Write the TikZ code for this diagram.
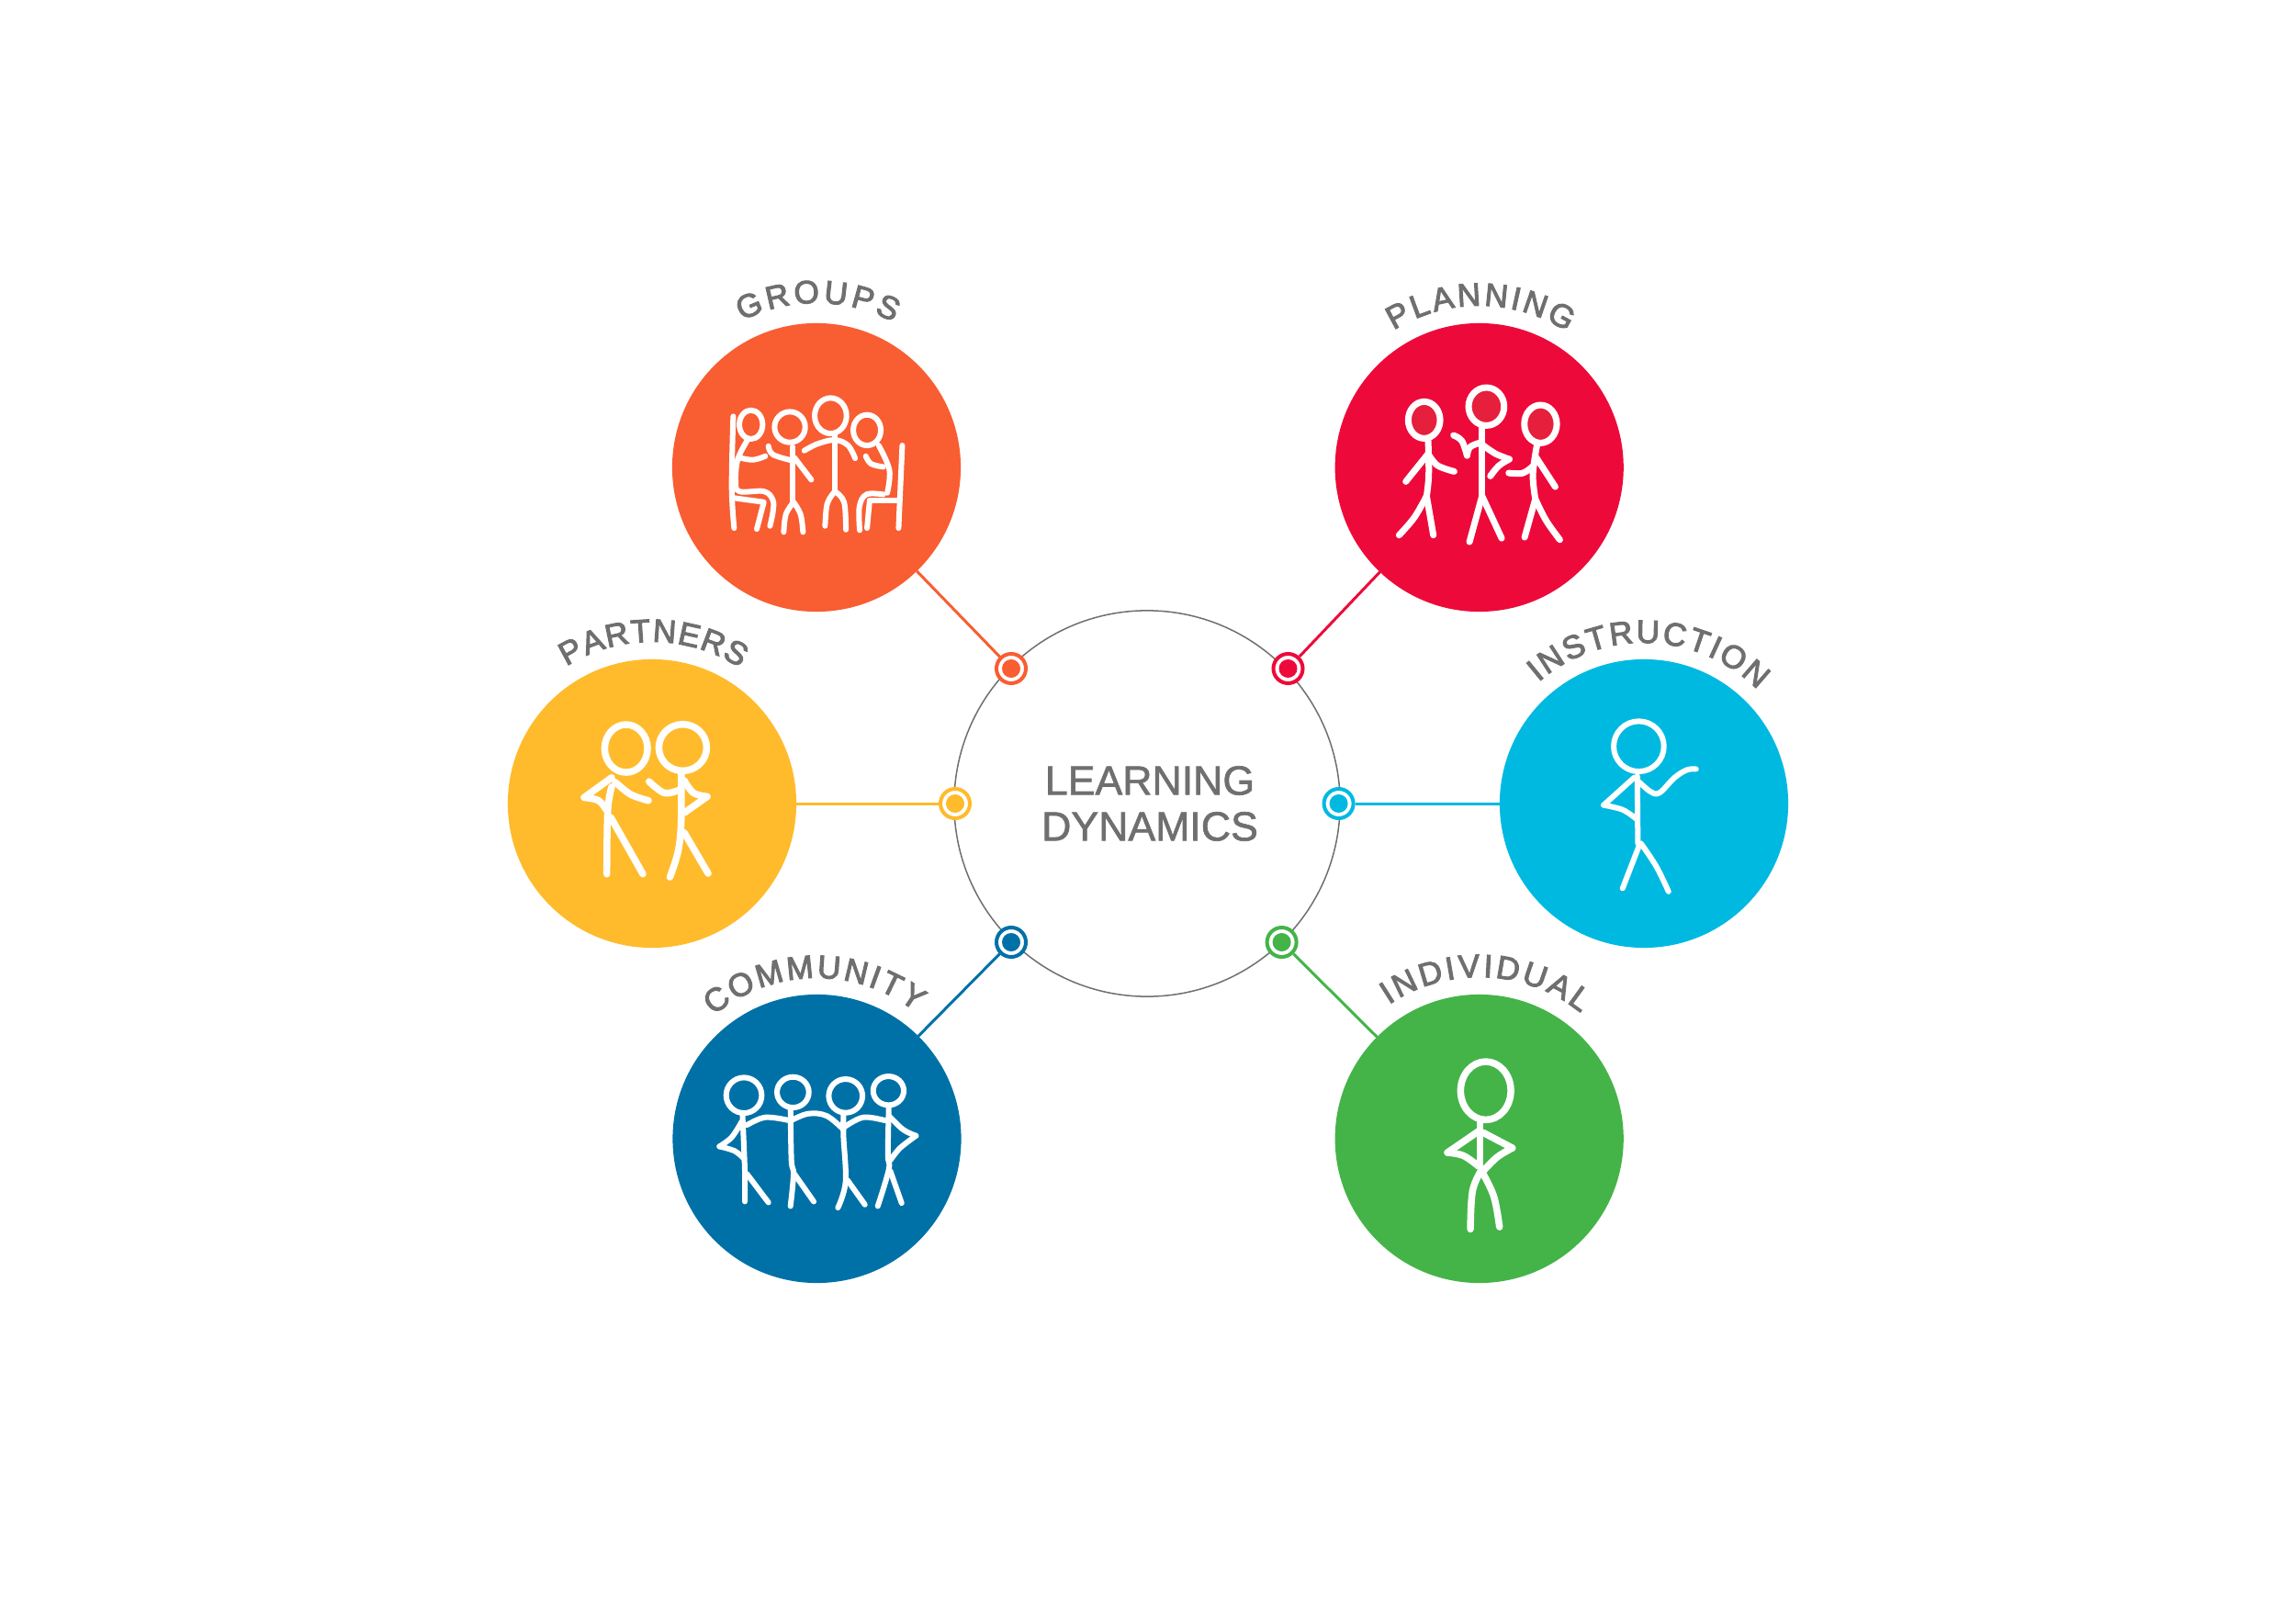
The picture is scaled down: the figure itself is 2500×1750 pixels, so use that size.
\documentclass[tikz,border=0pt]{standalone}
\usepackage{fontspec}
\usetikzlibrary{decorations.text}
\newfontfamily\labelfont[FakeBold=3]{Liberation Sans}
\newfontfamily\titlefont[FakeBold=1.5]{Liberation Sans}
\definecolor{dimgrey}{HTML}{6F6F6F}
\definecolor{coGroups}{HTML}{F95D32}
\definecolor{coPlanning}{HTML}{ED0A3A}
\definecolor{coPartners}{HTML}{FFBB2C}
\definecolor{coInstruction}{HTML}{00B9E1}
\definecolor{coCommunity}{HTML}{0071A7}
\definecolor{coIndividual}{HTML}{44B449}
\definecolor{headfill}{HTML}{E51F3C}
\tikzset{
	topic/.style={circle, fill=#1, inner sep=0, outer sep=0, minimum size=31.4mm},
	hub/.style={circle, draw=#1, fill=white, line width=0.4mm, inner sep=0, minimum size=3.2mm},
	hubdot/.style={circle, fill=#1, inner sep=0, minimum size=2mm},
	spoke/.style={draw=#1, line width=0.3mm},
	arctext/.style={decorate, decoration={text along path, text={|\labelfont\fontsize{10}{12}\selectfont\color{dimgrey}|#1}, text align={fit to path}}},
	crop/.style 2 args={shift={(#1,1750-#2)}, x=.03333mm, y=-.03333mm},
	stick/.style={draw=white, line width=0.6mm, line cap=round, line join=round, smooth, tension=0.6},
}

\begin{document}
\begin{tikzpicture}[x=0.01cm, y=0.01cm]
	\useasboundingbox (0,0) rectangle (2500,1750);
	% middle circle
	\node[circle, draw=dimgrey, line width=0.15mm, inner sep=0, minimum size=42cm/10] (centre) at (1249,875) {};
	\node[font=\titlefont\fontsize{12.7}{14.2}\selectfont, text=dimgrey, align=center, inner sep=0] (title) at (1252,875) {LEARNING\\DYNAMICS};
	% topics, hubs and spokes
	\foreach \nm/\cx/\cy/\hx/\hy in {Groups/889/1241/1101/1022, Planning/1610.7/1241/1402.5/1022,
		Partners/710/875/1040/875, Instruction/1790/875/1457.6/875,
		Community/889.5/510/1101/724, Individual/1610.7/510/1395.6/724} {
		\node[topic=co\nm] (c\nm) at (\cx,\cy) {};
		\node[hub=co\nm] (h\nm) at (\hx,\hy) {};
		\node[hubdot=co\nm] (d\nm) at (\hx,\hy) {};
		\draw[spoke=co\nm] (h\nm) -- (c\nm);
	}
	% labels on arcs
	\path[arctext=GROUPS] (cGroups.center) ++(117:179) arc[start angle=117, end angle=62, radius=179];
	\path[arctext=PLANNING] (cPlanning.center) ++(122:176) arc[start angle=122, end angle=57, radius=176];
	\path[arctext=PARTNERS] (cPartners.center) ++(122:176) arc[start angle=122, end angle=57, radius=176];
	\path[arctext=INSTRUCTION] (cInstruction.center) ++(131:175) arc[start angle=131, end angle=45, radius=175];
	\path[arctext=COMMUNITY] (cCommunity.center) ++(130:175) arc[start angle=130, end angle=52, radius=175];
	\path[arctext=INDIVIDUAL] (cIndividual.center) ++(124:176) arc[start angle=124, end angle=51, radius=176];
	% groups figures
	\begin{scope}[crop={720}{290}]
		\draw[stick] (293,517) ellipse[x radius=38, y radius=47];
		\draw[stick] (420,525) ellipse[x radius=50, y radius=50];
		\draw[stick] (553,488) ellipse[x radius=52, y radius=58];
		\draw[stick] (672,535) ellipse[x radius=45, y radius=50];
		\draw[stick] plot coordinates {(235,490) (230,720) (238,855)};
		\draw[stick] plot coordinates {(280,570) (250,630) (243,700) (255,735) (335,735) (364,762) (365,800) (355,848)};
		\draw[stick] plot coordinates {(255,625) (300,632) (340,620)};
		\draw[stick] (240,757) -- (335,770) -- (312,858);
		\draw[stick] (430,590) -- (430,770);
		\draw[stick] plot coordinates {(350,587) (365,615) (430,635)};
		\draw[stick] (435,625) -- (490,697);
		\draw[stick] plot coordinates {(432,770) (407,810) (400,868)};
		\draw[stick] plot coordinates {(432,770) (455,810) (463,868)};
		\draw[stick] (567,550) -- (567,735);
		\draw[stick] plot coordinates {(467,602) (510,580) (567,567) (610,585) (633,627)};
		\draw[stick] plot coordinates {(567,735) (542,775) (535,848)};
		\draw[stick] plot coordinates {(567,735) (597,770) (603,860)};
		\draw[stick] plot coordinates {(710,585) (745,665) (738,740)};
		\draw[stick] plot coordinates {(725,745) (670,745) (647,785) (648,862)};
		\draw[stick] plot coordinates {(668,620) (685,645) (725,655)};
		\draw[stick] (680,765) -- (772,765);
		\draw[stick] (680,770) -- (672,855);
		\draw[stick] (787,585) -- (775,855);
	\end{scope}
	% planning figures
	\begin{scope}[crop={1440}{290}, stick/.append style={line width=0.7mm}]
		\draw[stick, fill=headfill] (332,502) ellipse[x radius=52, y radius=60];
		\draw[stick, fill=headfill] (535,458) ellipse[x radius=58, y radius=62];
		\draw[stick, fill=headfill] (712,515) ellipse[x radius=53, y radius=62];
		\draw[stick] plot coordinates {(345,570) (347,680) (340,750)};
		\draw[stick] (272,703) -- (345,612);
		\draw[stick] plot coordinates {(345,612) (375,650) (430,670)};
		\draw[stick] plot coordinates {(340,750) (300,820) (250,878)};
		\draw[stick] (340,750) -- (362,878);
		\draw[stick] (521,525) -- (521,750);
		\draw[stick] (521,750) -- (480,900);
		\draw[stick] (521,750) -- (585,888);
		\draw[stick] plot coordinates {(428,552) (455,570) (472,618)};
		\draw[stick] plot coordinates {(472,618) (482,590) (518,575)};
		\draw[stick] plot coordinates {(525,585) (565,612) (610,630)};
		\draw[stick] plot coordinates {(610,630) (575,652) (548,685)};
		\draw[stick] plot coordinates {(700,585) (687,680) (695,760)};
		\draw[stick] (695,620) -- (760,720);
		\draw[stick] plot coordinates {(690,650) (655,675) (608,675)};
		\draw[stick] (695,760) -- (660,885);
		\draw[stick] plot coordinates {(695,760) (730,830) (775,893)};
	\end{scope}
	% partners figures
	\begin{scope}[crop={540}{650}, stick/.append style={line width=0.75mm}]
		\draw[stick] (425,495) ellipse[x radius=70, y radius=78];
		\draw[stick] (610,492) ellipse[x radius=78, y radius=76];
		\draw[stick] plot coordinates {(378,620) (365,700) (362,905)};
		\draw[stick] (378,590) -- (288,655);
		\draw[stick] plot coordinates {(288,655) (335,665) (360,695)};
		\draw[stick] plot coordinates {(390,605) (440,645) (498,665)};
		\draw[stick] (375,720) -- (480,905);
		\draw[stick] plot coordinates {(605,575) (605,730) (595,830) (568,915)};
		\draw[stick] plot coordinates {(500,603) (550,640) (600,630)};
		\draw[stick] plot coordinates {(615,600) (645,640) (690,652)};
		\draw[stick] (690,652) -- (615,705);
		\draw[stick] (615,770) -- (693,903);
	\end{scope}
	% instruction figure
	\begin{scope}[crop={1620}{650}]
		\draw[stick] (493,488) ellipse[x radius=82, y radius=82];
		\draw[stick] (488,585) -- (490,805);
		\draw[stick] (478,590) -- (378,680);
		\draw[stick] plot coordinates {(378,680) (440,695) (485,725)};
		\draw[stick] plot coordinates {(495,605) (530,635) (560,640) (610,590) (650,565) (680,562)};
		\draw[stick] (495,810) -- (440,952);
		\draw[stick] plot coordinates {(500,805) (550,880) (590,962)};
	\end{scope}
	% community figures
	\begin{scope}[crop={730}{1030}]
		\draw[stick] (240,488) ellipse[x radius=58, y radius=58];
		\draw[stick] (400,478) ellipse[x radius=52, y radius=50];
		\draw[stick] (572,490) ellipse[x radius=55, y radius=55];
		\draw[stick] (712,473) ellipse[x radius=50, y radius=47];
		\draw[stick] plot coordinates {(235,545) (243,735) (243,835)};
		\draw[stick] (250,745) -- (320,838);
		\draw[stick] plot coordinates {(232,575) (200,625) (160,655)};
		\draw[stick] plot coordinates {(160,655) (210,670) (240,695)};
		\draw[stick] plot coordinates {(250,585) (310,560) (388,570)};
		\draw[stick] plot coordinates {(392,530) (395,700) (402,745) (392,850)};
		\draw[stick] (405,745) -- (468,835);
		\draw[stick] plot coordinates {(395,570) (450,548) (510,555) (565,600)};
		\draw[stick] plot coordinates {(565,545) (565,620) (572,770) (547,855)};
		\draw[stick] (578,765) -- (635,845);
		\draw[stick] plot coordinates {(570,590) (630,560) (700,570)};
		\draw[stick] plot coordinates {(713,525) (710,680) (713,730) (677,850)};
		\draw[stick] (718,735) -- (755,840);
		\draw[stick] plot coordinates {(713,555) (760,600) (802,620)};
		\draw[stick] plot coordinates {(802,620) (750,660) (718,700)};
	\end{scope}
	% individual figure
	\begin{scope}[crop={1440}{1030}, stick/.append style={line width=0.75mm}]
		\draw[stick] (533,473) ellipse[x radius=82, y radius=95];
		\draw[stick] (515,575) -- (515,720);
		\draw[stick] (510,605) -- (408,675);
		\draw[stick] plot coordinates {(408,675) (460,685) (510,720)};
		\draw[stick] (525,610) -- (620,660);
		\draw[stick] plot coordinates {(620,660) (570,690) (525,735)};
		\draw[stick] plot coordinates {(520,730) (490,800) (483,925)};
		\draw[stick] plot coordinates {(525,745) (560,820) (578,918)};
	\end{scope}
\end{tikzpicture}
\end{document}
